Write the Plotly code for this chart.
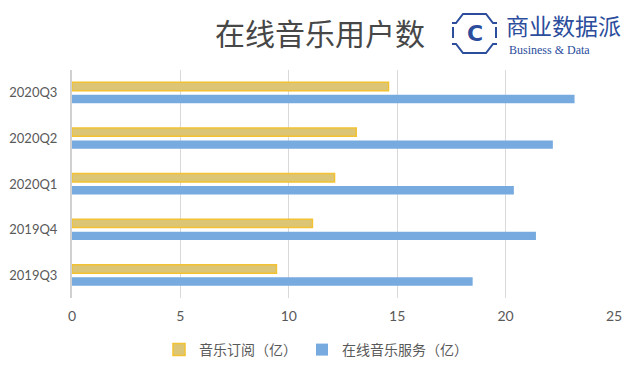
import plotly.graph_objects as go

quarters = ["2019Q3", "2019Q4", "2020Q1", "2020Q2", "2020Q3"]
subscription = [9.43, 11.09, 12.11, 13.11, 14.60]
online_service = [18.48, 21.40, 20.38, 22.18, 23.18]
x_ticks = [0, 5, 10, 15, 20, 25]

name_sub = "音乐订阅（亿）"
name_online = "在线音乐服务（亿）"

# the page places the figure 8px from the window's top-left corner
OFF = 8
W, H = 640 - OFF, 374 - OFF
L, R, T, B = 72 - OFF, 26, 70 - OFF, 76
pw, ph = W - L - R, H - T - B

def px(x):
    return (x - OFF - L) / pw

def py(y):
    return (H - B - (y - OFF)) / ph

fig = go.Figure()
fig.add_trace(go.Bar(
    y=quarters, x=online_service, orientation="h", name=name_online,
    marker=dict(color="#77aadf", line=dict(width=0)), legendrank=2,
))
fig.add_trace(go.Bar(
    y=quarters, x=subscription, orientation="h", name=name_sub,
    marker=dict(color="#dcc575", line=dict(color="#f2c232", width=1.5)), legendrank=1,
))

cjk = "Noto Sans CJK SC"
logo_blue = "#2b4d9c"

shapes = []
def path(points):
    return "M " + " L ".join(f"{px(a):.5f},{py(b):.5f}" for a, b in points)

for pts in [
    [(452, 23), (456, 23), (463, 14), (486, 14), (493, 23), (497, 23)],
    [(452, 44), (456, 44), (463, 53), (486, 53), (493, 44), (497, 44)],
    [(453, 27), (453, 38)],
    [(496, 27), (496, 38)],
]:
    shapes.append(dict(type="path", xref="paper", yref="paper", path=path(pts),
                       line=dict(color=logo_blue, width=2)))

annotations = [
    dict(text="在线音乐用户数", x=px(320), y=py(32), xref="paper", yref="paper",
         showarrow=False, xanchor="center", yanchor="middle",
         font=dict(family=cjk, size=30, color="#474747")),
    dict(text="<b>C</b>", x=px(474.5), y=py(33), xref="paper", yref="paper",
         showarrow=False, xanchor="center", yanchor="middle",
         font=dict(family="DejaVu Sans", size=22, color=logo_blue)),
    dict(text="商业数据派", x=px(504), y=py(40), xref="paper", yref="paper",
         showarrow=False, xanchor="left", yanchor="bottom", height=27,
         font=dict(family=cjk, size=23, color=logo_blue)),
    dict(text="Business &amp; Data", x=px(507), y=py(41), xref="paper", yref="paper",
         showarrow=False, xanchor="left", yanchor="top", height=14,
         font=dict(family="Liberation Serif", size=12, color=logo_blue)),
]

fig.update_layout(
    width=W, height=H,
    margin=dict(l=L, r=R, t=T, b=B, pad=0, autoexpand=False),
    paper_bgcolor="white", plot_bgcolor="white",
    barmode="group", bargap=0.45, bargroupgap=0.33,
    showlegend=True,
    legend=dict(orientation="h", x=px(316), xanchor="center", y=py(350), yanchor="middle",
                font=dict(family=cjk, size=14, color="#595959"),
                itemwidth=30, tracegroupgap=0, bgcolor="rgba(0,0,0,0)"),
    shapes=shapes,
    annotations=annotations,
    font=dict(family="Lato", color="#595959"),
)
fig.update_xaxes(
    range=[0, 25], tickvals=x_ticks, showgrid=True, gridcolor="#d9d9d9", gridwidth=1,
    zeroline=False, showline=False, ticks="", ticklabelstandoff=8, automargin=False,
    tickfont=dict(family="Lato", size=14, color="#595959"), fixedrange=True,
)
fig.update_yaxes(
    type="category", categoryorder="array", categoryarray=quarters,
    showline=True, linecolor="#d0d0d0", linewidth=2, showgrid=False,
    ticks="", ticklabelstandoff=10, automargin=False,
    tickfont=dict(family="Lato", size=13, color="#595959"), fixedrange=True,
)

fig.write_html("out.html", config={"displayModeBar": False})
